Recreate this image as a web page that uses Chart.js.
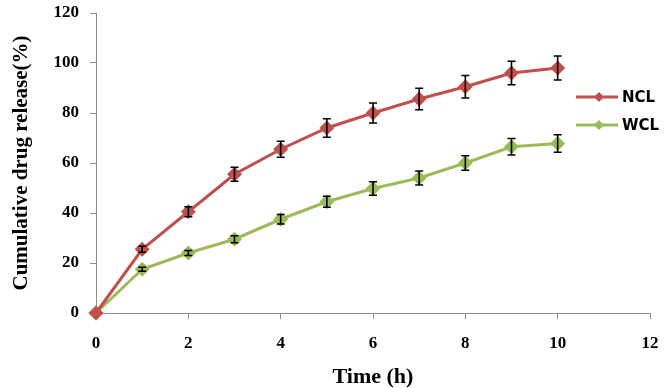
<!DOCTYPE html>
<html>
<head>
<meta charset="utf-8">
<script src="https://cdn.jsdelivr.net/npm/chart.js@4"></script>
<style>
html,body{margin:0;padding:0;background:#fff;}
#wrap{width:668px;height:388px;}
</style>
</head>
<body>
<div id="wrap"><canvas id="c" width="668" height="388"></canvas></div>
<script>
const timeH = [0,1,2,3,4,5,6,7,8,9,10];
const nclValues = [0,25.5,40.5,55.5,65.5,74,80,85.6,90.5,96,98];
const nclErrors = [0,1.2,2,2.8,3.2,3.7,4,4.3,4.5,4.7,4.8];
const wclValues = [0,17.5,24,29.5,37.5,44.5,49.8,54,60,66.5,67.8];
const wclErrors = [0,0.8,1,1.4,1.9,2.2,2.7,2.8,2.9,3.3,3.5];
const xTicks = [0,2,4,6,8,10,12];
const yTicks = [0,20,40,60,80,100,120];
const seriesNames = ['NCL','WCL'];
const seriesColors = ['#C0504D','#9BBB59'];

const toPts = (vals) => timeH.map((t,i)=>({x:t,y:vals[i]}));
const errSets = [nclErrors, wclErrors];

const errorBarPlugin = {
  id:'errorBars',
  afterDatasetsDraw(chart){
    const {ctx, scales:{x,y}} = chart;
    ctx.save();
    ctx.strokeStyle = '#000';
    ctx.lineWidth = 1.6;
    chart.data.datasets.forEach((ds,di)=>{
      const errs = errSets[di];
      ds.data.forEach((p,i)=>{
        const e = errs[i];
        if(!e) return;
        const px = x.getPixelForValue(p.x);
        const top = y.getPixelForValue(p.y+e);
        const bot = y.getPixelForValue(p.y-e);
        ctx.beginPath();
        ctx.moveTo(px,top); ctx.lineTo(px,bot);
        ctx.moveTo(px-4,top); ctx.lineTo(px+4,top);
        ctx.moveTo(px-4,bot); ctx.lineTo(px+4,bot);
        ctx.stroke();
      });
    });
    ctx.restore();
  }
};

const legendPlugin = {
  id:'sideLegend',
  afterDraw(chart){
    const {ctx} = chart;
    ctx.save();
    const rows = [97,125];
    seriesNames.forEach((name,i)=>{
      const yy = rows[i];
      ctx.strokeStyle = seriesColors[i];
      ctx.lineWidth = 3;
      ctx.beginPath(); ctx.moveTo(576,yy); ctx.lineTo(618,yy); ctx.stroke();
      ctx.fillStyle = seriesColors[i];
      ctx.beginPath();
      ctx.moveTo(599,yy-5); ctx.lineTo(604,yy); ctx.lineTo(599,yy+5); ctx.lineTo(594,yy);
      ctx.closePath(); ctx.fill();
      ctx.fillStyle = '#000';
      ctx.font = 'bold 15px "DejaVu Sans"';
      ctx.textBaseline = 'middle';
      ctx.textAlign = 'left';
      ctx.fillText(name, 622, yy+1);
    });
    ctx.restore();
  }
};

new Chart(document.getElementById('c'),{
  type:'line',
  data:{
    datasets:[
      {label:seriesNames[0],data:toPts(nclValues),borderColor:seriesColors[0],backgroundColor:seriesColors[0],
       borderWidth:3,pointStyle:'rectRot',pointRadius:7.5,pointBorderWidth:0,tension:0,clip:false},
      {label:seriesNames[1],data:toPts(wclValues),borderColor:seriesColors[1],backgroundColor:seriesColors[1],
       borderWidth:3,pointStyle:'rectRot',pointRadius:7.5,pointBorderWidth:0,tension:0,clip:false}
    ]
  },
  options:{
    responsive:false,
    animation:false,
    events:[],
    layout:{padding:{left:0,right:18,top:13,bottom:0}},
    plugins:{legend:{display:false},tooltip:{enabled:false}},
    scales:{
      x:{
        type:'linear',min:0,max:12,
        afterBuildTicks(s){s.ticks = xTicks.map(v=>({value:v}));},
        afterFit(s){s.height = 75; s.paddingLeft = 0; s.paddingRight = 0;},
        border:{color:'#8c8c8c',width:1},
        grid:{drawOnChartArea:false,drawTicks:true,tickLength:6,color:'#8c8c8c'},
        ticks:{color:'#000',padding:14,font:{family:'"Liberation Serif"',weight:'bold',size:17},maxRotation:0},
        title:{display:true,text:'Time (h)',color:'#000',font:{family:'"Liberation Serif"',weight:'bold',size:22,lineHeight:1},padding:{top:0,bottom:0}}
      },
      y:{
        type:'linear',min:0,max:120,
        afterBuildTicks(s){s.ticks = yTicks.map(v=>({value:v}));},
        afterFit(s){s.width = 96; s.paddingTop = 0; s.paddingBottom = 0;},
        border:{color:'#8c8c8c',width:1},
        grid:{drawOnChartArea:false,drawTicks:true,tickLength:6,color:'#8c8c8c'},
        ticks:{color:'#000',padding:11,font:{family:'"Liberation Serif"',weight:'bold',size:17}},
        title:{display:true,text:'Cumulative drug release(%)',color:'#000',font:{family:'"Liberation Serif"',weight:'bold',size:21,lineHeight:1},padding:{top:11,bottom:0}}
      }
    }
  },
  plugins:[errorBarPlugin,legendPlugin]
});
</script>
</body>
</html>
